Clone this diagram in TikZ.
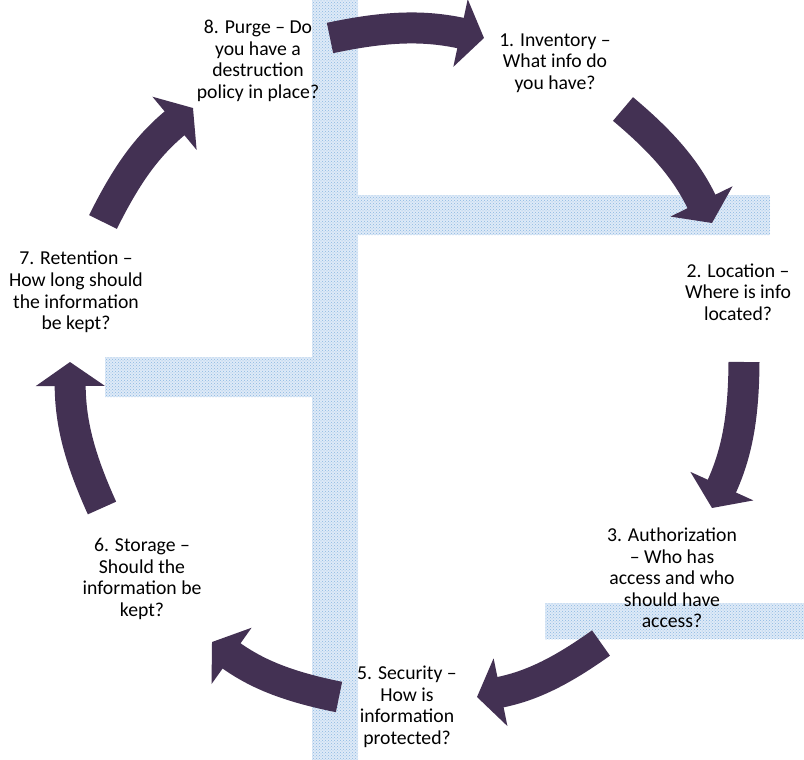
\documentclass[tikz,border=0pt]{standalone}
\usepackage{fontspec}
\setmainfont{Carlito}
\usetikzlibrary{ arrows.meta, patterns, positioning }
\definecolor{cyclepurple}{RGB}{67,49,83}
\definecolor{bandblue}{RGB}{140,183,226}
\definecolor{bandlight}{RGB}{222,234,247}
\tikzset{
>={Triangle[length=24pt,width=68pt]}, % big block arrow heads
every node/.style={inner sep=1pt},
phase/.style={align=center, font=\fontsize{19.7pt}{21.6pt}\selectfont}, % text of each step
flow/.style={draw=cyclepurple, line width=31pt, bend left=12}, % curved block arrows
band/.style={preaction={fill=bandlight}, pattern=crosshatch dots, pattern color=bandblue}, % dotted background strips
}
\begin{document}
\begin{tikzpicture}[x=1pt, y=1pt]
  \useasboundingbox (0,0) rectangle (804,-760);
  % background strips
  \fill[band] (312,0) rectangle (358,-760);
  \fill[band] (358,-195) rectangle (770,-235);
  \fill[band] (105,-357) rectangle (312,-397);
  \fill[band] (545,-603) rectangle (804,-639);

  \node[phase] (purge) at (258,-61) {8. Purge -- Do\\you have a\\destruction\\policy in place?};
  \node[phase] (inv) at (555,-63) {1. Inventory --\\What info do\\you have?};
  \node[phase] (loc) at (738,-292) {2. Location --\\Where is info\\located?};
  \node[phase] (auth) at (672,-578) {3. Authorization\\-- Who has\\access and who\\should have\\access?};
  \node[phase] (sec) at (407,-707) {5. Security --\\How is\\information\\protected?};
  \node[phase] (stor) at (142,-579) {6. Storage --\\Should the\\information be\\kept?};
  \node[phase] (ret) at (76,-292) {7. Retention --\\How long should\\the information\\be kept?};

  % tail and tip of each arrow
  \coordinate (t1) at (330,-38);  \coordinate (h1) at (484,-38);
  \coordinate (t2) at (623,-109); \coordinate (h2) at (712,-223);
  \coordinate (t3) at (744,-362); \coordinate (h3) at (712,-508);
  \coordinate (t4) at (601,-643); \coordinate (h4) at (477,-697);
  \coordinate (t5) at (339,-697); \coordinate (h5) at (212,-642);
  \coordinate (t6) at (102,-508); \coordinate (h6) at (70,-362);
  \coordinate (t7) at (103,-222); \coordinate (h7) at (193,-108);

  \path[->]
  (t1) edge[flow] (h1)
  (t2) edge[flow] (h2)
  (t3) edge[flow] (h3)
  (t4) edge[flow] (h4)
  (t5) edge[flow] (h5)
  (t6) edge[flow] (h6)
  (t7) edge[flow] (h7);
\end{tikzpicture}
\end{document}
